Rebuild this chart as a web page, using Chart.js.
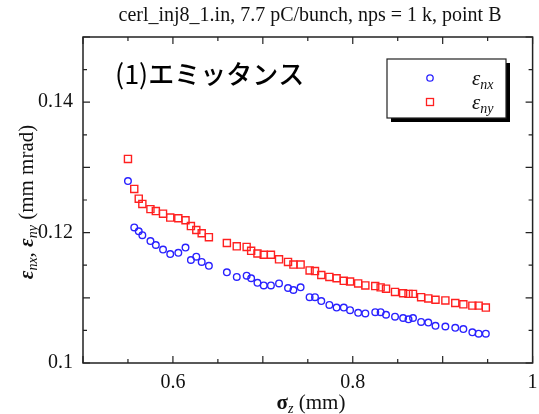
<!DOCTYPE html>
<html>
<head>
<meta charset="utf-8">
<script src="https://cdn.jsdelivr.net/npm/chart.js@4/dist/chart.umd.min.js"></script>
<style>
  html, body { margin: 0; padding: 0; background: #fff; }
  canvas { display: block; }
</style>
</head>
<body>
<canvas id="emitChart" width="539" height="414"></canvas>
<script>
// bunch length (mm) and normalized emittances (mm mrad)
const sigmaZ = [0.550, 0.557, 0.562, 0.566, 0.575, 0.581, 0.589, 0.597, 0.606, 0.614,
    0.620, 0.626, 0.632, 0.640, 0.660, 0.671, 0.682, 0.687, 0.694, 0.701,
    0.709, 0.718, 0.728, 0.734, 0.742, 0.752, 0.758, 0.765, 0.774, 0.782,
    0.790, 0.797, 0.806, 0.814, 0.825, 0.831, 0.837, 0.847, 0.856, 0.862,
    0.867, 0.876, 0.884, 0.892, 0.903, 0.914, 0.923, 0.933, 0.940, 0.948];
const emitX = [0.1279, 0.1208, 0.1202, 0.1196, 0.1187, 0.1181, 0.1174, 0.1167, 0.1169, 0.1177,
    0.1158, 0.1163, 0.1155, 0.1149, 0.1139, 0.1132, 0.1134, 0.1130, 0.1123, 0.1119,
    0.1119, 0.1122, 0.1115, 0.1112, 0.1116, 0.1101, 0.1101, 0.1095, 0.1089, 0.1085,
    0.1085, 0.1081, 0.1077, 0.1076, 0.1078, 0.1078, 0.1074, 0.1071, 0.1069, 0.1067,
    0.1069, 0.1063, 0.1062, 0.1057, 0.1056, 0.1054, 0.1052, 0.1047, 0.1045, 0.1045];
const emitY = [0.1313, 0.1267, 0.1252, 0.1244, 0.1236, 0.1233, 0.1229, 0.1223, 0.1222, 0.1219,
    0.1210, 0.1204, 0.1199, 0.1193, 0.1184, 0.1179, 0.1178, 0.1172, 0.1168, 0.1166,
    0.1166, 0.1159, 0.1155, 0.1151, 0.1151, 0.1142, 0.1141, 0.1135, 0.1132, 0.1130,
    0.1126, 0.1125, 0.1122, 0.1119, 0.1118, 0.1116, 0.1114, 0.1109, 0.1107, 0.1106,
    0.1106, 0.1101, 0.1099, 0.1097, 0.1096, 0.1092, 0.1090, 0.1088, 0.1088, 0.1085];

const xTickLabels = [0.6, 0.8, 1];
const yTickLabels = [0.1, 0.12, 0.14];

const BLUE = '#2a22ff';
const RED = '#ff2020';
const SERIF = '"Liberation Serif", "DejaVu Serif", serif';
const CJK = '"Noto Sans CJK JP", "Noto Sans CJK SC", sans-serif';

// draw a run of text pieces (for subscripts), returns total width
function drawRuns(ctx, runs, x, y, measureOnly) {
    let w = 0;
    runs.forEach(r => {
        ctx.font = r.font;
        if (!measureOnly) ctx.fillText(r.t, x + w, y + (r.dy || 0));
        w += ctx.measureText(r.t).width;
    });
    return w;
}

function drawCentered(ctx, runs, cx, y) {
    const w = drawRuns(ctx, runs, 0, 0, true);
    drawRuns(ctx, runs, cx - w / 2, y);
}

const framePlugin = {
    id: 'frame',
    afterDraw(chart) {
        const ctx = chart.ctx;
        const { left, right, top, bottom } = chart.chartArea;
        const xs = chart.scales.x;
        const ys = chart.scales.y;
        ctx.save();

        // box
        ctx.strokeStyle = '#222';
        ctx.lineWidth = 1.5;
        ctx.strokeRect(left, top, right - left, bottom - top);

        // inward ticks on all four sides
        ctx.lineWidth = 1.2;
        ctx.beginPath();
        for (let i = 0; i <= 10; i++) {
            const v = 0.5 + i * 0.05;
            const px = xs.getPixelForValue(v);
            const len = i % 2 === 0 ? 7 : 4;
            ctx.moveTo(px, bottom); ctx.lineTo(px, bottom - len);
            ctx.moveTo(px, top); ctx.lineTo(px, top + len);
        }
        for (let i = 0; i <= 10; i++) {
            const v = 0.1 + i * 0.005;
            const py = ys.getPixelForValue(v);
            const len = i % 2 === 0 ? 7 : 4;
            ctx.moveTo(left, py); ctx.lineTo(left + len, py);
            ctx.moveTo(right, py); ctx.lineTo(right - len, py);
        }
        ctx.stroke();

        // tick labels
        ctx.fillStyle = '#111';
        ctx.font = '20px ' + SERIF;
        ctx.textBaseline = 'middle';
        ctx.textAlign = 'right';
        yTickLabels.forEach(v => ctx.fillText(String(v), left - 10, ys.getPixelForValue(v)));
        ctx.textAlign = 'center';
        ctx.textBaseline = 'top';
        xTickLabels.forEach(v => ctx.fillText(String(v), xs.getPixelForValue(v), bottom + 10));

        // header line
        ctx.font = '20px ' + SERIF;
        ctx.textBaseline = 'middle';
        ctx.fillText('cerl_inj8_1.in, 7.7 pC/bunch, nps = 1 k, point B', 310, 16);

        // axis titles
        ctx.textAlign = 'left';
        ctx.textBaseline = 'alphabetic';
        drawCentered(ctx, [
            { t: 'σ', font: 'bold 21px ' + SERIF },
            { t: 'z', font: 'italic 14px ' + SERIF, dy: 4 },
            { t: ' (mm)', font: '21px ' + SERIF }
        ], 311, 409);

        ctx.save();
        ctx.translate(33, 202);
        ctx.rotate(-Math.PI / 2);
        drawCentered(ctx, [
            { t: 'ε', font: 'bold italic 21px ' + SERIF },
            { t: 'nx', font: 'italic 14px ' + SERIF, dy: 4 },
            { t: ', ', font: '21px ' + SERIF },
            { t: 'ε', font: 'bold italic 21px ' + SERIF },
            { t: 'ny', font: 'italic 14px ' + SERIF, dy: 4 },
            { t: ' (mm mrad)', font: '21px ' + SERIF }
        ], 0, 0);
        ctx.restore();

        // panel caption
        ctx.fillStyle = '#000';
        ctx.textBaseline = 'middle';
        drawRuns(ctx, [
            { t: '(1)', font: '400 27px ' + CJK },
            { t: 'エミッタンス', font: '500 26px ' + CJK }
        ], 115, 74);

        // legend box with drop shadow
        const lx = 387, ly = 59, lw = 119, lh = 59;
        ctx.fillStyle = '#000';
        ctx.fillRect(lx + 4, ly + 4, lw, lh);
        ctx.fillStyle = '#fff';
        ctx.fillRect(lx, ly, lw, lh);
        ctx.strokeStyle = '#222';
        ctx.lineWidth = 1.2;
        ctx.strokeRect(lx, ly, lw, lh);

        ctx.lineWidth = 1.3;
        ctx.strokeStyle = BLUE;
        ctx.beginPath();
        ctx.arc(430, 78, 3.2, 0, Math.PI * 2);
        ctx.stroke();
        ctx.strokeStyle = RED;
        ctx.strokeRect(426.5, 98.5, 7, 7);

        ctx.fillStyle = '#111';
        ctx.textBaseline = 'alphabetic';
        drawRuns(ctx, [
            { t: 'ε', font: 'italic 21px ' + SERIF },
            { t: 'nx', font: 'italic 14px ' + SERIF, dy: 4 }
        ], 472, 85);
        drawRuns(ctx, [
            { t: 'ε', font: 'italic 21px ' + SERIF },
            { t: 'ny', font: 'italic 14px ' + SERIF, dy: 4 }
        ], 472, 109);

        ctx.restore();
    }
};

new Chart(document.getElementById('emitChart'), {
    type: 'scatter',
    data: {
        datasets: [
            {
                label: 'εnx',
                data: sigmaZ.map((s, i) => ({ x: s, y: emitX[i] })),
                pointStyle: 'circle',
                pointRadius: 3.3,
                borderColor: BLUE,
                backgroundColor: 'rgba(0,0,0,0)',
                borderWidth: 1.4
            },
            {
                label: 'εny',
                data: sigmaZ.map((s, i) => ({ x: s, y: emitY[i] })),
                pointStyle: 'rect',
                pointRadius: 5,
                borderColor: RED,
                backgroundColor: 'rgba(0,0,0,0)',
                borderWidth: 1.4
            }
        ]
    },
    options: {
        responsive: false,
        animation: false,
        devicePixelRatio: 1,
        layout: { padding: { left: 83, right: 3, top: 37, bottom: 51 } },
        scales: {
            x: { type: 'linear', min: 0.5, max: 1.0, display: false },
            y: { type: 'linear', min: 0.1, max: 0.15, display: false }
        },
        plugins: {
            legend: { display: false },
            tooltip: { enabled: false }
        }
    },
    plugins: [framePlugin]
});
</script>
</body>
</html>
